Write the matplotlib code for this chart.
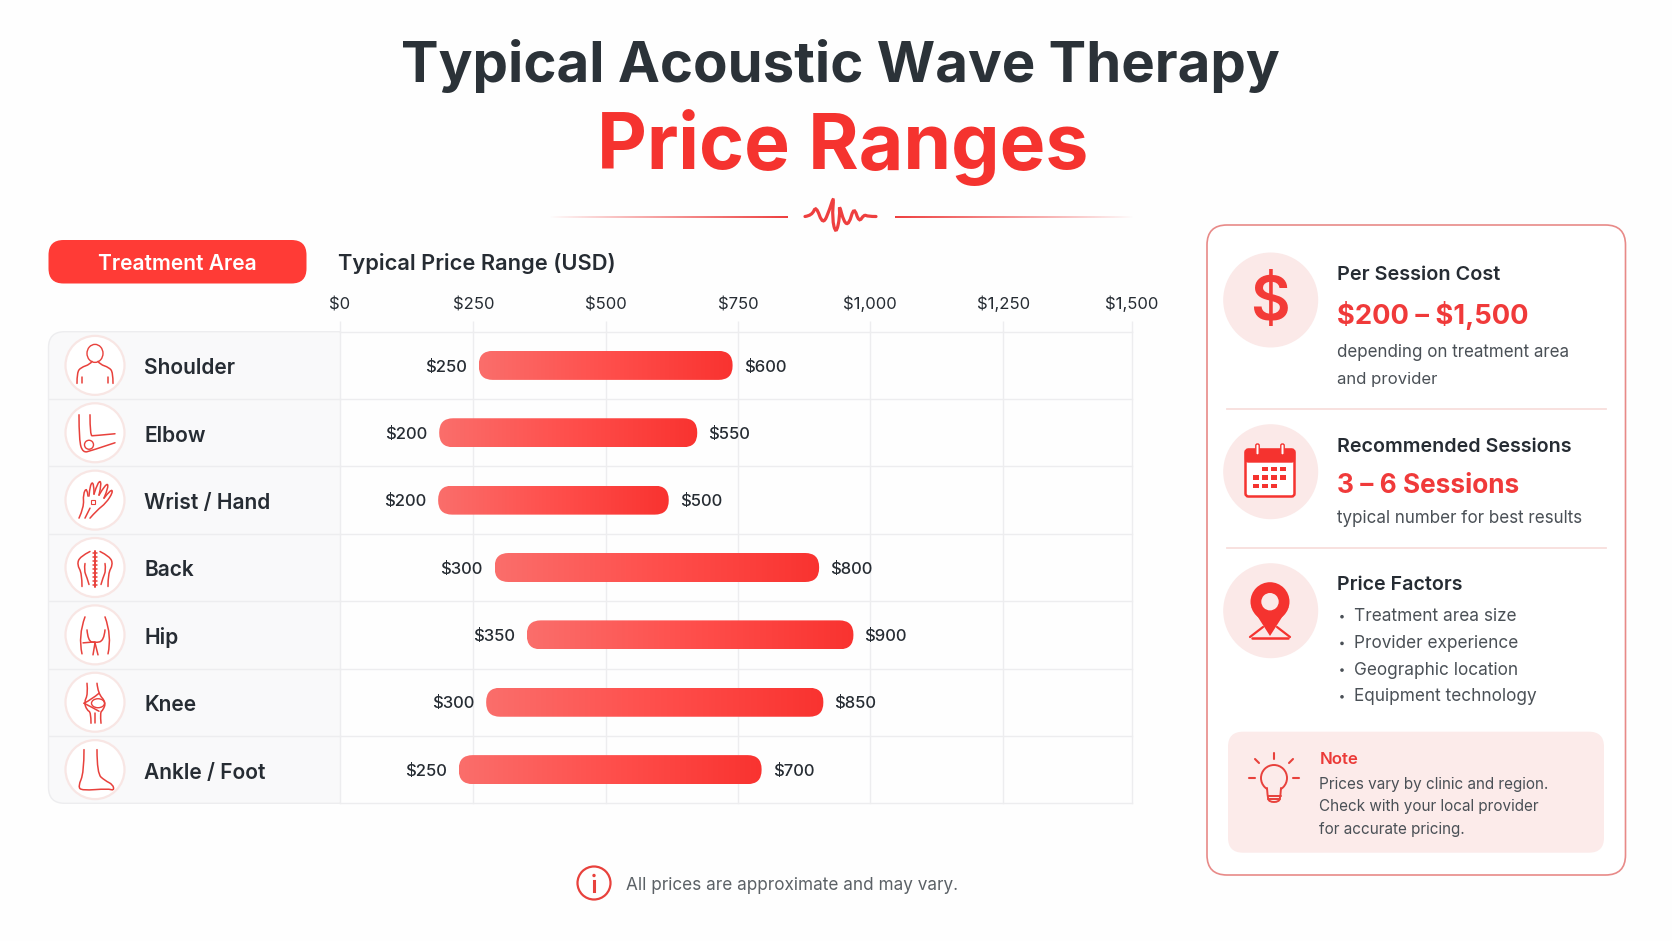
import numpy as np
import matplotlib
matplotlib.use("Agg")
import matplotlib.pyplot as plt
from matplotlib.colors import LinearSegmentedColormap, to_rgb
from matplotlib.patches import Circle, Ellipse, FancyBboxPatch, PathPatch, Polygon, Rectangle
from matplotlib.path import Path

W, H = 1672, 941

# chart values
categories = ["Shoulder", "Elbow", "Wrist / Hand", "Back", "Hip", "Knee", "Ankle / Foot"]
low_labels = [250, 200, 200, 300, 350, 300, 250]
high_labels = [600, 550, 500, 800, 900, 850, 700]
# the bars in the picture do not sit where their labels say, so read them off the axis
bar_start = [263, 188, 186, 293, 354, 277, 225]
bar_end = [744, 677, 623, 908, 973, 916, 799]
x_ticks = [0, 252.6, 503.5, 754, 1004, 1257, 1500]
x_tick_labels = ["$0", "$250", "$500", "$750", "$1,000", "$1,250", "$1,500"]

factors = ["Treatment area size", "Provider experience", "Geographic location", "Equipment technology"]
note_lines = ["Prices vary by clinic and region.", "Check with your local provider", "for accurate pricing."]

RED = "#F5332F"
ICON = "#E8413C"
DARK = "#262C33"
GREY = "#4A5056"
GRID = "#EDEDEF"

plt.rcParams["font.family"] = ["Inter", "DejaVu Sans"]

fig = plt.figure(figsize=(W / 100, H / 100), dpi=100, facecolor="#FEFEFE")
bg = fig.add_axes([0, 0, 1, 1], zorder=0)
bg.set_xlim(0, W)
bg.set_ylim(H, 0)
bg.axis("off")
renderer = fig.canvas.get_renderer()


def label(x, y, s, width=None, size=10, **kw):
    # width in pixels: scale the font until the text is that wide
    t = bg.text(x, y + 2, s, fontsize=size, va="center", parse_math=False, **kw)
    if width:
        t.set_fontsize(size * width / t.get_window_extent(renderer).width)
    return t


def stroke(cx, cy, pts, lw=1.1, color=ICON):
    # smooth line through the midpoints of pts
    pts = [(cx + a, cy + b) for a, b in pts]
    verts, codes = [pts[0]], [Path.MOVETO]
    if len(pts) == 2:
        verts.append(pts[1])
        codes.append(Path.LINETO)
    for i in range(1, len(pts) - 1):
        if i == len(pts) - 2:
            end = pts[i + 1]
        else:
            end = ((pts[i][0] + pts[i + 1][0]) / 2, (pts[i][1] + pts[i + 1][1]) / 2)
        verts += [pts[i], end]
        codes += [Path.CURVE3, Path.CURVE3]
    bg.add_patch(PathPatch(Path(verts, codes), fill=False, edgecolor=color, lw=lw, capstyle="round", zorder=5))


def mirror(pts):
    return [(-a, b) for a, b in pts]


def rounded(x0, y0, x1, y1, r, **kw):
    p = FancyBboxPatch((x0, y0), x1 - x0, y1 - y0, boxstyle="round,pad=0,rounding_size=%g" % r, **kw)
    bg.add_patch(p)
    return p


def fade_line(x0, x1, y, left_to_right):
    # thin rule that fades out towards the outer end
    rgba = np.ones((1, 200, 4))
    rgba[..., :3] = to_rgb("#EE3F3F")
    rgba[..., 3] = np.linspace(0, 1, 200) ** 0.9 if left_to_right else np.linspace(1, 0, 200) ** 0.9
    bg.imshow(rgba, extent=[x0, x1, y + 1, y - 1], aspect="auto", zorder=2)


def icon_shoulder(c, y):
    bg.add_patch(Ellipse((c, y - 12), 16, 18, fill=False, edgecolor=ICON, lw=1, zorder=5))
    side = [(-18, 18), (-18, 7), (-14, 2), (-5, -1), (-3, -4)]
    for pts in (side, mirror(side)):
        stroke(c, y, pts)
    stroke(c, y, [(-13, 12), (-13, 18)])
    stroke(c, y, [(13, 12), (13, 18)])


def icon_elbow(c, y):
    stroke(c, y, [(-16, -18), (-16, 8), (-12, 20), (-4, 18), (20, 10)])
    stroke(c, y, [(-5, -18), (-5, 3), (-1, 3), (20, 1)])
    bg.add_patch(Circle((c - 6, y + 12), 4.5, fill=False, edgecolor=ICON, lw=1, zorder=5))


def icon_hand(c, y):
    stroke(c, y, [(-16, 18), (-11, 7), (-12, -6), (-8, -13), (-7, -4)])
    stroke(c, y, [(-6, -4), (-5, -16), (-1, -18), (-1, -6)])
    stroke(c, y, [(-1, -6), (3, -19), (7, -18), (4, -5)])
    stroke(c, y, [(4, -5), (11, -17), (14, -14), (9, -2)])
    stroke(c, y, [(9, -2), (16, -11), (18, -8), (11, 3), (2, 10), (-5, 18)])
    stroke(c, y, [(-10, 18), (-5, 8)])
    bg.add_patch(Rectangle((c - 4, y), 4, 4, fill=False, edgecolor=ICON, lw=0.8, zorder=5))


def icon_back(c, y):
    outer = [(-5, -16), (-15, -11), (-18, -3), (-13, 6), (-13, 19)]
    inner = [(-10, -4), (-11, 3), (-8, 10), (-6, 17)]
    for pts in (outer, mirror(outer), inner, mirror(inner)):
        stroke(c, y, pts)
    stroke(c, y, [(0, -17), (0, 19)], lw=1.4)
    for dy in range(-15, 19, 4):
        stroke(c, y, [(-2, dy), (2, dy)], lw=1.1)


def icon_hip(c, y):
    side = [(-10, -18), (-17, 1), (-13, 19)]
    for pts in (side, mirror(side)):
        stroke(c, y, pts)
    stroke(c, y, [(-8, -5), (-7, 6), (0, 8), (9, 6), (10, -5)])
    stroke(c, y, [(0, 8), (-2, 20)])
    stroke(c, y, [(0, 8), (3, 20)])
    stroke(c, y, [(-12, 8), (0, 7)])


def icon_knee(c, y):
    stroke(c, y, [(-8, -19), (-7, -8), (-11, 0), (-8, 8), (-4, 10), (-4, 21)])
    stroke(c, y, [(2, -19), (3, -9), (11, 0), (8, 8), (5, 10), (6, 21)])
    stroke(c, y, [(-11, 1), (-3, -3), (4, -9)])
    stroke(c, y, [(-11, 1), (-3, 5), (4, 9)])
    stroke(c, y, [(0, 11), (0, 21)])
    bg.add_patch(Ellipse((c + 3, y + 1), 13, 9, fill=False, edgecolor=ICON, lw=1, zorder=5))


def icon_foot(c, y):
    stroke(c, y, [(-11, -20), (-11, 3), (-17, 17), (-13, 21), (13, 19), (19, 21), (18, 15), (10, 11), (2, 4), (2, -20)])


icons = [icon_shoulder, icon_elbow, icon_hand, icon_back, icon_hip, icon_knee, icon_foot]

# title block
label(840.5, 64, "Typical Acoustic Wave Therapy", width=879, ha="center", color="#2B3238", weight="bold")
label(842.5, 145, "Price Ranges", width=491, ha="center", color=RED, weight="bold")
fade_line(549, 788, 216.5, True)
fade_line(895, 1134, 216.5, False)
stroke(840, 216.5, [(-35, 0), (-28, -1), (-24, -11), (-17, 9), (-10, -8), (-6, -21), (-8, 2),
                    (-4, 18), (0, 0), (-1, -13), (4, 6), (9, 8), (14, -10), (19, 6), (24, -2), (28, 0), (36, 0)],
       lw=2.3, color="#EE3F3F")

# table behind the chart: rounded on the left, square on the right
top, bottom = 331.7, 803.3
left, right = 48.5, 1131.5
row_h = (bottom - top) / len(categories)
side_fill = rounded(left, top, 340 + 40, bottom, 16, facecolor="#F9F9FA", edgecolor=GRID, lw=1, zorder=1.1)
side_fill.set_clip_path(Rectangle((left - 2, top - 2), 340 - left + 2, bottom - top + 4, transform=bg.transData))

# header
rounded(48.5, 240, 306.5, 283.5, 15, facecolor="#FF3B36", edgecolor="none", zorder=2)
label(177.5, 262, "Treatment Area", width=159, ha="center", color="white", weight="semibold", zorder=3)
label(338.2, 262, "Typical Price Range (USD)", width=276, color=DARK, weight="semibold")

# chart proper, pixel-aligned to the table
ax = fig.add_axes([340 / W, 1 - bottom / H, (right - 340) / W, (bottom - top) / H], zorder=1)
ax.patch.set_alpha(0)
for s in ax.spines.values():
    s.set_visible(False)

bar_cmap = LinearSegmentedColormap.from_list("bar", ["#FA6E6B", "#FF4F4C", "#F93330"])
ramp = np.linspace(0, 1, 256).reshape(1, -1)
x_per_px = 1500 / (right - 340)
for i, (a, b) in enumerate(zip(bar_start, bar_end)):
    h = 29 / row_h
    box = FancyBboxPatch((a, i + 0.5 - h / 2), b - a, h,
                         boxstyle="round,pad=0,rounding_size=%g" % (14 * x_per_px),
                         mutation_aspect=(1 / row_h) / x_per_px,
                         facecolor="none", edgecolor="none")
    ax.add_patch(box)
    im = ax.imshow(ramp, cmap=bar_cmap, extent=[a, b, i + 0.5 + h / 2, i + 0.5 - h / 2], aspect="auto", zorder=3)
    im.set_clip_path(box)
    ax.annotate("$%d" % low_labels[i], (a, i + 0.5), xytext=(-8.5, -1.2), textcoords="offset points",
                ha="right", va="center", fontsize=12, color=DARK, weight="medium")
    ax.annotate("$%d" % high_labels[i], (b, i + 0.5), xytext=(8, -1.2), textcoords="offset points",
                ha="left", va="center", fontsize=12, color=DARK, weight="medium")

ax.set_xlim(0, 1500)
ax.set_ylim(len(categories), 0)
ax.xaxis.tick_top()
ax.set_xticks(x_ticks)
ax.set_xticklabels(x_tick_labels)
ax.tick_params(axis="x", length=8, width=1, color=GRID, labelsize=12, labelcolor=DARK, pad=6)
ax.set_yticks(range(len(categories) + 1))
ax.set_yticklabels([])
ax.tick_params(axis="y", length=0)
ax.grid(True, color=GRID, lw=1)
for line in ax.get_xgridlines() + ax.get_ygridlines():
    line.set_clip_on(False)
ax.set_axisbelow(True)

# row separators run under the first column too, then the icons and names
for i, name in enumerate(categories):
    yc = top + (i + 0.5) * row_h
    if i:
        bg.plot([left, 340], [top + i * row_h] * 2, color=GRID, lw=1, zorder=1.2)
    bg.add_patch(Circle((95, yc), 29.5, facecolor="#FFFFFF", edgecolor="#F8E6E4", lw=1.6, zorder=4))
    icons[i](95, yc)
    label(144, yc + 1, name, size=15.1, color=DARK, weight="semibold")

# side panel
rounded(1207, 225, 1625.5, 875, 20, facecolor="#FFFFFF", edgecolor="#E88A88", lw=1.2, zorder=1)
for y in (408.5, 547.5):
    bg.plot([1227, 1606], [y, y], color="#F8DEDC", lw=1.3, zorder=2)
for y in (300, 471.7, 610.7):
    bg.add_patch(Circle((1270.7, y), 47.5, facecolor="#FBE9E8", edgecolor="none", zorder=2))

TX = 1337
label(1270, 302, "$", size=44, ha="center", color="#F33B37", weight="semibold", zorder=3)
label(TX, 273.3, "Per Session Cost", width=163, color=DARK, weight="semibold")
label(TX, 314, "$200 – $1,500", width=192, color="#F03A3A", weight="bold")
label(TX, 350.7, "depending on treatment area", width=234, color=GREY)
label(TX, 377.2, "and provider", width=101, color=GREY)
label(TX, 445, "Recommended Sessions", width=234, color=DARK, weight="semibold")
label(TX, 484, "3 – 6 Sessions", width=182, color="#F03A3A", weight="bold")
label(TX, 516.2, "typical number for best results", width=247, color=GREY)
label(TX, 583.3, "Price Factors", width=125, color=DARK, weight="semibold")
for i, f in enumerate(factors):
    y = 614.7 + i * 26.7
    bg.add_patch(Circle((1342, y + 2), 1.8, facecolor=GREY, edgecolor="none", zorder=3))
    label(1354, y, f, size=12.4, color=GREY)

# calendar
rounded(1245.5, 449.5, 1294.5, 496.5, 3, facecolor="#FFFFFF", edgecolor=RED, lw=1.8, zorder=3)
rounded(1245.5, 449.5, 1294.5, 462, 3, facecolor=RED, edgecolor=RED, lw=1, zorder=3)
for x in (1257.5, 1282.5):
    rounded(x - 1.7, 444, x + 1.7, 455, 1.5, facecolor="#FFFFFF", edgecolor=RED, lw=1, zorder=4)
for row, cols in enumerate([(1, 2, 3), (0, 1, 2, 3), (0, 1, 2)]):
    for col in cols:
        bg.add_patch(Rectangle((1253 + col * 9.1, 466.5 + row * 8.5), 5.6, 4.6, facecolor=RED, edgecolor="none", zorder=4))

# map pin
stroke(1270, 610, [(-20, 27), (-7, 17)], lw=1.6, color=RED)
stroke(1270, 610, [(20, 27), (7, 17)], lw=1.6, color=RED)
bg.plot([1252, 1288], [637.5, 637.5], color=RED, lw=1.8, solid_capstyle="round", zorder=3)
bg.add_patch(Circle((1270, 601.7), 19.5, facecolor=RED, edgecolor="none", zorder=4))
bg.add_patch(Polygon([(1251.5, 607), (1288.5, 607), (1270, 636)], facecolor=RED, edgecolor="none", zorder=4))
bg.add_patch(Circle((1270, 601.7), 8.7, facecolor="#FBE9E8", edgecolor="none", zorder=5))

# note box
rounded(1228, 731.7, 1604, 852.7, 15, facecolor="#FCEBEA", edgecolor="none", zorder=2)
bg.add_patch(Circle((1274, 778), 13, fill=False, edgecolor=ICON, lw=1.4, zorder=4))
bg.add_patch(Rectangle((1267.5, 788), 13, 15, facecolor="#FCEBEA", edgecolor="none", zorder=4.5))
stroke(1274, 778, [(-7, 10), (-6.5, 18), (-5, 24), (5, 24), (6.5, 18), (7, 10)], lw=1.4)
stroke(1274, 778, [(-6.5, 18), (6.5, 18)], lw=1.4)
stroke(1274, 778, [(-6, 21), (6, 21)], lw=1.4)
for p, q in [((0, -25), (0, -19)), ((-19, -19), (-15, -15)), ((19, -19), (15, -15)), ((-25, 0), (-19, 0)), ((25, 0), (19, 0))]:
    stroke(1274, 778, [p, q], lw=1.5)
label(1319.3, 757.5, "Note", width=39, color="#EB3A38", weight="semibold", zorder=3)
for i, line in enumerate(note_lines):
    label(1319.3, 782.3 + i * 22.4, line, size=11, color=GREY, zorder=3)

# footer
bg.add_patch(Circle((594, 883), 16.5, fill=False, edgecolor=ICON, lw=1.6))
bg.add_patch(Circle((594, 875.5), 1.7, facecolor=ICON, edgecolor="none"))
bg.plot([594, 594], [880.5, 891], color=ICON, lw=2.2)
label(626, 883, "All prices are approximate and may vary.", width=333, color="#5B6166")

bg.set_xlim(0, W)
bg.set_ylim(H, 0)
fig.savefig("out.png", dpi=100, facecolor=fig.get_facecolor())
